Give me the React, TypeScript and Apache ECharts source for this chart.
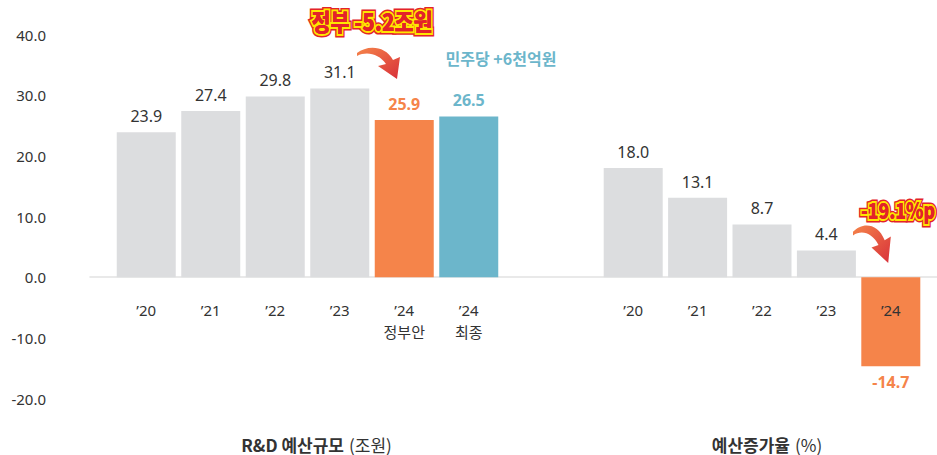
import React, { useEffect, useRef } from "react";
import * as echarts from "echarts";

const yTicks = { min: -20, max: 40, interval: 10 };
const budgetCategories = ["’20", "’21", "’22", "’23", "’24\n정부안", "’24\n최종"];
const budgetValues = [23.9, 27.4, 29.8, 31.1, 25.9, 26.5];
const growthCategories = ["’20", "’21", "’22", "’23", "’24"];
const growthValues = [18.0, 13.1, 8.7, 4.4, -14.7];
const leftTitleBold = "R&D 예산규모";
const leftTitleUnit = "(조원)";
const rightTitleBold = "예산증가율";
const rightTitleUnit = "(%)";
const govNote = "정부 -5.2조원";
const partyNote = "민주당 +6천억원";
const growthNote = "-19.1%p";

const GRAY = "#dcdddf";
const ORANGE = "#f5844a";
const BLUE = "#6cb6cb";
const FONT = "'Noto Sans', 'Noto Sans CJK KR', sans-serif";
const KFONT = "'Noto Sans CJK KR', 'Noto Sans', sans-serif";

const ARROW_D =
  "M0,9 C10,1 28,1 36,16 L43,13 L40,35 L21,22 L29,20 C22,10 10,7 0,12 Z";

let registered = false;
function ensureShape() {
  if (registered) return;
  echarts.graphic.registerShape("curvedArrow", echarts.graphic.extendPath(ARROW_D, {}) as any);
  registered = true;
}

function barItems(values: number[], colorFor: (i: number) => string) {
  return values.map((v, i) => {
    const c = colorFor(i);
    const highlighted = c !== GRAY;
    return {
      value: v,
      itemStyle: { color: c },
      label: {
        position: v < 0 ? "bottom" : "top",
        color: highlighted ? c : "#333",
        fontWeight: highlighted ? "bold" : "normal",
      },
    };
  });
}

export default function App() {
  const ref = useRef<HTMLDivElement>(null);
  useEffect(() => {
    if (!ref.current) return;
    ensureShape();
    const chart = echarts.init(ref.current, null, { renderer: "svg" });
    const top = 34.5;
    const bottom = 56.5;
    const plotH = 455 - top - bottom;
    const zeroFromBottom = (plotH * (0 - yTicks.min)) / (yTicks.max - yTicks.min);
    const hiddenY = (gi: number) => ({
      type: "value",
      gridIndex: gi,
      min: yTicks.min,
      max: yTicks.max,
      interval: yTicks.interval,
      axisLine: { show: false },
      axisTick: { show: false },
      axisLabel: { show: false },
      splitLine: { show: false },
    });
    const catX = (gi: number, data: string[]) => ({
      type: "category",
      gridIndex: gi,
      data,
      z: 5,
      position: "bottom",
      offset: -zeroFromBottom,
      axisLine: { show: false, onZero: false },
      axisTick: { show: false },
      axisLabel: {
        margin: 22,
        fontSize: 15,
        color: "#333",
        fontFamily: FONT,
        lineHeight: 22,
      },
    });
    const grad = () =>
      new echarts.graphic.LinearGradient(0, 0, 1, 1, [
        { offset: 0, color: "#f5844a" },
        { offset: 1, color: "#d8303a" },
      ]);
    const outlined = (text: string, x: number, y: number, size: number, sx: number) =>
      [
        { stroke: "#e3232a", lineWidth: 7 },
        { stroke: "#ffe600", lineWidth: 4 },
        { stroke: undefined as any, lineWidth: 0 },
      ].map((s, k) => ({
        type: "text",
        x,
        y,
        scaleX: sx,
        z: 10 + k,
        style: {
          text,
          fontSize: size,
          fontWeight: 900,
          fontFamily: KFONT,
          fill: "#e3232a",
          stroke: s.stroke,
          lineWidth: s.lineWidth,
          lineJoin: "round",
          align: "center",
          verticalAlign: "middle",
        },
      }));
    const titleText = (text: string, x: number, bold: boolean) => ({
      type: "text",
      x,
      y: 444,
      style: {
        text,
        fontSize: 17,
        lineHeight: 18,
        fontWeight: bold ? "bold" : "normal",
        fill: "#333",
        fontFamily: KFONT,
        align: bold ? "right" : "left",
        verticalAlign: "middle",
      },
    });
    chart.setOption({
      animation: false,
      grid: [
        { left: 90, right: 0, top, bottom },
        { left: 114, right: 436, top, bottom },
        { left: 601, right: 14, top, bottom },
      ],
      xAxis: [
        {
          type: "category",
          gridIndex: 0,
          data: [""],
          axisLine: { show: true, onZero: true, lineStyle: { color: "#e2e2e2", width: 1.5 } },
          axisTick: { show: false },
          axisLabel: { show: false },
        },
        catX(1, budgetCategories),
        catX(2, growthCategories),
      ],
      yAxis: [
        {
          type: "value",
          gridIndex: 0,
          min: yTicks.min,
          max: yTicks.max,
          interval: yTicks.interval,
          axisLine: { show: false },
          axisTick: { show: false },
          splitLine: { show: false },
          axisLabel: {
            margin: 44,
            fontSize: 15,
            color: "#333",
            fontFamily: FONT,
            formatter: (v: number) => v.toFixed(1),
          },
        },
        hiddenY(1),
        hiddenY(2),
      ],
      series: [
        {
          type: "bar",
          xAxisIndex: 1,
          yAxisIndex: 1,
          barWidth: 59,
          data: barItems(budgetValues, (i) =>
            i === 4 ? ORANGE : i === 5 ? BLUE : GRAY
          ),
          label: {
            show: true,
            distance: 8,
            fontSize: 16,
            fontFamily: FONT,
            formatter: (p: any) => Number(p.value).toFixed(1),
          },
        },
        {
          type: "bar",
          xAxisIndex: 2,
          yAxisIndex: 2,
          barWidth: 59,
          data: barItems(growthValues, (i) => (growthValues[i] < 0 ? ORANGE : GRAY)),
          label: {
            show: true,
            distance: 8,
            fontSize: 16,
            fontFamily: FONT,
            formatter: (p: any) => Number(p.value).toFixed(1),
          },
        },
      ],
      graphic: [
        ...outlined(govNote, 372, 20, 24, 0.86),
        ...outlined(growthNote, 898, 210, 22, 0.8),
        {
          type: "text",
          x: 501,
          y: 58,
          style: {
            text: partyNote,
            fontSize: 16,
            fontWeight: "bold",
            fontFamily: KFONT,
            fill: BLUE,
            align: "center",
            verticalAlign: "middle",
          },
        },
        {
          type: "curvedArrow",
          x: 357,
          y: 44,
          style: { fill: grad() },
          z: 5,
        },
        {
          type: "curvedArrow",
          x: 853,
          y: 221,
          scaleX: 0.88,
          scaleY: 1.2,
          style: { fill: grad() },
          z: 5,
        },
        titleText(leftTitleBold, 344, true),
        titleText(leftTitleUnit, 349, false),
        titleText(rightTitleBold, 790, true),
        titleText(rightTitleUnit, 795, false),
      ],
    });
    return () => chart.dispose();
  }, []);
  return (
    <div
      ref={ref}
      style={{ position: "absolute", left: 0, top: 0, width: 937, height: 455 }}
    />
  );
}
